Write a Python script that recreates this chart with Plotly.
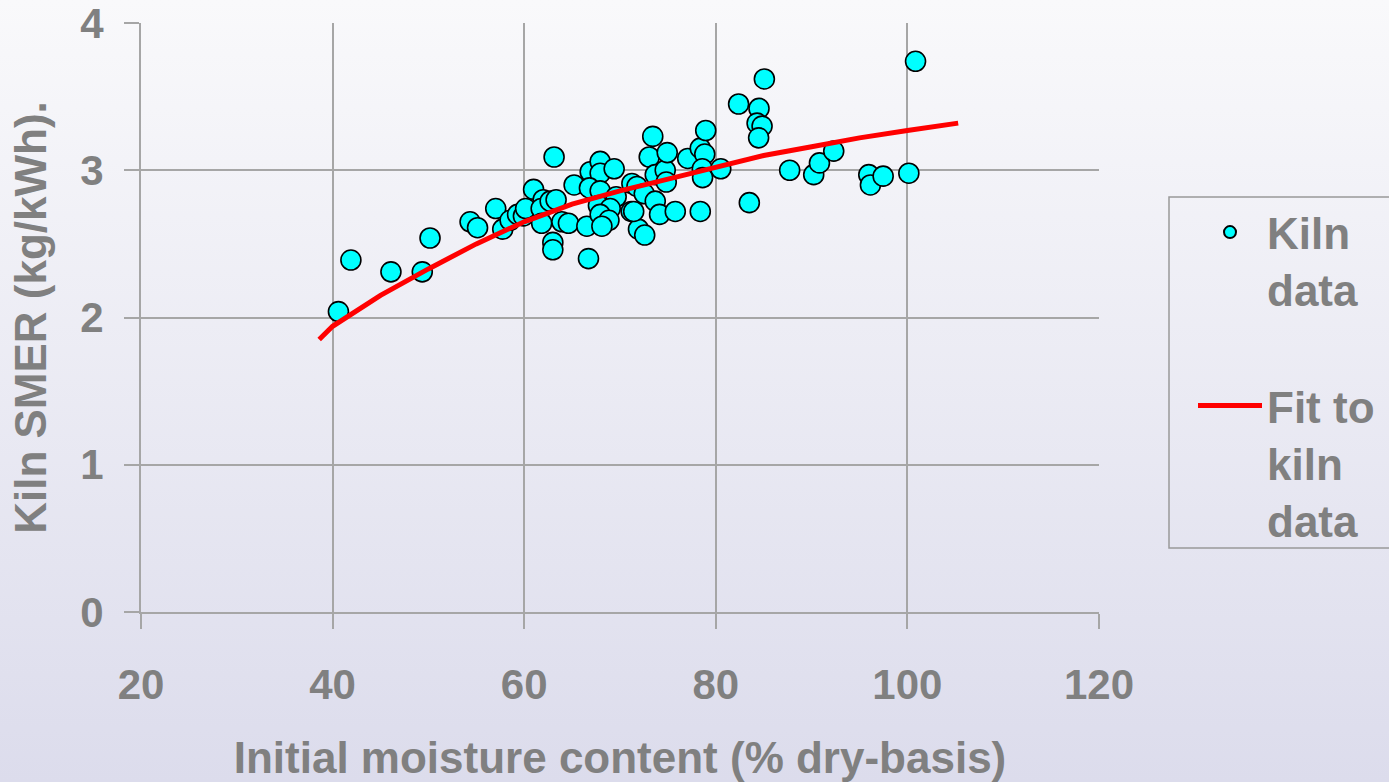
import base64
import plotly.graph_objects as go

# ---- data ----
moisture = [40.61, 41.91, 46.09, 49.36, 50.17, 54.35, 55.13, 57.03, 57.76, 58.53,
            59.31, 59.92, 60.15, 60.98, 61.98, 61.77, 62.71, 63.33, 61.82, 62.99,
            62.99, 63.12, 63.93, 64.62, 65.21, 66.71, 66.54, 66.89, 67.93, 67.93,
            69.39, 66.81, 67.93, 69.60, 67.75, 68.98, 67.93, 68.85, 68.11, 71.24,
            71.77, 72.53, 73.68, 71.17, 71.93, 72.58, 74.13, 75.77, 73.05, 73.42,
            73.68, 74.72, 74.83, 74.93, 77.07, 78.38, 78.85, 78.59, 78.62, 78.95,
            78.38, 80.52, 82.38, 84.51, 84.31, 84.83, 84.47, 85.07, 83.50, 87.71,
            90.22, 90.82, 92.31, 95.97, 96.14, 97.47, 100.15, 100.85, 71.43]
smer = [2.04, 2.39, 2.31, 2.31, 2.54, 2.65, 2.61, 2.74, 2.60, 2.66,
        2.70, 2.69, 2.74, 2.87, 2.80, 2.74, 2.79, 2.80, 2.64, 2.51,
        2.46, 3.09, 2.65, 2.64, 2.90, 2.40, 2.62, 2.99, 3.06, 2.98,
        3.01, 2.88, 2.86, 2.82, 2.76, 2.74, 2.70, 2.66, 2.62, 2.91,
        2.89, 2.84, 2.79, 2.72, 2.60, 2.56, 2.70, 2.72, 3.09, 3.23,
        2.97, 3.00, 2.92, 3.12, 3.08, 3.15, 3.11, 3.01, 2.95, 3.27,
        2.72, 3.01, 3.45, 3.42, 3.32, 3.30, 3.22, 3.62, 2.78, 3.00,
        2.97, 3.05, 3.13, 2.97, 2.90, 2.96, 2.98, 3.74, 2.72]

fit_x = [38.6, 40, 45, 50, 55, 60, 65, 70, 75, 80, 85, 90, 95, 100, 105.3]
fit_y = [1.85, 1.94, 2.15, 2.33, 2.50, 2.65, 2.77, 2.86, 2.94, 3.02, 3.10, 3.16, 3.22, 3.27, 3.32]

x_ticks = [20, 40, 60, 80, 100, 120]
y_ticks = [0, 1, 2, 3, 4]

GREY = "#808080"
AXIS_GREY = "#a6a6a6"
FONT = "Arial, Liberation Sans, sans-serif"

fig = go.Figure()
fig.add_trace(go.Scatter(
    x=moisture, y=smer, mode="markers", name="Kiln<br>data",
    legendgroup="a",
    marker=dict(color="#00ffff", size=20, line=dict(color="black", width=1.6)),
))
fig.add_trace(go.Scatter(
    x=fit_x, y=fit_y, mode="lines", name="Fit to<br>kiln<br>data",
    legendgroup="b",
    line=dict(color="#ff0000", width=5),
))

# background gradient
svg = ('<svg xmlns="http://www.w3.org/2000/svg" width="100" height="100" preserveAspectRatio="none">'
       '<defs><linearGradient id="g" x1="0" y1="0" x2="0" y2="1">'
       '<stop offset="0" stop-color="#f9f9fb"/><stop offset="1" stop-color="#dcdcec"/>'
       '</linearGradient></defs><rect width="100" height="100" fill="url(#g)"/></svg>')
src = "data:image/svg+xml;base64," + base64.b64encode(svg.encode()).decode()

W, H = 1389, 782
ml, mr, mt, mb = 141, 290, 23, 170
pw, ph = W - ml - mr, H - mt - mb


def px_x(p):
    return (p - ml) / pw


def px_y(p):
    return (H - mb - p) / ph


fig.update_layout(
    width=W, height=H,
    margin=dict(l=ml, r=mr, t=mt, b=mb, autoexpand=False),
    paper_bgcolor="white",
    plot_bgcolor="rgba(0,0,0,0)",
    font=dict(family=FONT, color=GREY, size=42, weight="bold"),
    images=[dict(source=src, xref="paper", yref="paper",
                 x=-ml / pw, y=1 + mt / ph, sizex=W / pw, sizey=H / ph,
                 xanchor="left", yanchor="top", sizing="stretch", layer="below")],
    shapes=[dict(type="rect", xref="paper", yref="paper",
                 x0=px_x(1169), x1=px_x(1420), y0=px_y(548), y1=px_y(197),
                 line=dict(color="#999999", width=1.5), fillcolor="rgba(0,0,0,0)")],
    legend=dict(
        x=px_x(1193), y=px_y(197), xanchor="left", yanchor="top",
        bgcolor="rgba(0,0,0,0)", borderwidth=0,
        font=dict(family=FONT, color=GREY, size=44, weight="bold"),
        traceorder="grouped", tracegroupgap=56, valign="top",
        itemsizing="constant", itemwidth=64,
    ),
    xaxis=dict(
        range=[20, 120], tickvals=x_ticks, ticktext=[str(v) for v in x_ticks],
        showgrid=True, gridcolor=AXIS_GREY, gridwidth=2,
        showline=True, linecolor=AXIS_GREY, linewidth=2,
        ticks="outside", ticklen=15, tickwidth=2, tickcolor=AXIS_GREY,
        zeroline=False, ticklabelstandoff=20, ticklabeloverflow="allow",
        tickfont=dict(family=FONT, color=GREY, size=42, weight="bold"),
        title=dict(text="Initial moisture content (% dry-basis)", standoff=35,
                   font=dict(family=FONT, color=GREY, size=44, weight="bold")),
    ),
    yaxis=dict(
        range=[0, 4], tickvals=y_ticks, ticktext=[str(v) for v in y_ticks],
        showgrid=True, gridcolor=AXIS_GREY, gridwidth=2,
        showline=True, linecolor=AXIS_GREY, linewidth=2,
        ticks="outside", ticklen=15, tickwidth=2, tickcolor=AXIS_GREY,
        zeroline=False, ticklabelstandoff=12, ticklabeloverflow="allow",
        tickfont=dict(family=FONT, color=GREY, size=42, weight="bold"),
        title=dict(text="Kiln SMER (kg/kWh).", standoff=20,
                   font=dict(family=FONT, color=GREY, size=44, weight="bold")),
    ),
)

fig.write_html("out.html")
